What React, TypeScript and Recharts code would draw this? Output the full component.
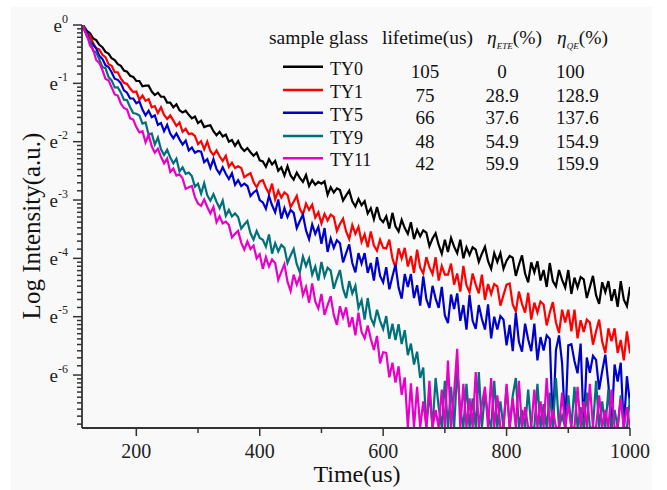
import { LineChart, Line, XAxis, YAxis } from 'recharts';

// sampling grid (us): 113, then every 5 us up to 1000
const times = [113, ...Array.from({ length: 178 }, (_, i) => 115 + i * 5)];

// ln(intensity), one value per grid point
const ty0 = [
  0, -0.02, -0.1, -0.14, -0.23, -0.26, -0.34, -0.38, -0.46, -0.49, -0.57, -0.6, -0.67, -0.7, -0.78, -0.8, -0.87, -0.89, -0.96,
  -0.96, -1.05, -1.04, -1.04, -1.14, -1.2, -1.16, -1.23, -1.23, -1.33, -1.33, -1.41, -1.36, -1.46, -1.5, -1.47, -1.54, -1.6, -1.57, -1.68,
  -1.64, -1.75, -1.73, -1.72, -1.82, -1.89, -1.83, -1.91, -1.88, -2.0, -1.97, -2.07, -1.99, -2.1, -2.16, -2.11, -2.18, -2.24, -2.19, -2.32,
  -2.34, -2.43, -2.3, -2.39, -2.33, -2.5, -2.44, -2.58, -2.42, -2.58, -2.65, -2.53, -2.62, -2.69, -2.57, -2.76, -2.66, -2.74, -2.69, -2.72,
  -2.68, -2.91, -2.78, -2.87, -2.8, -2.83, -3.01, -2.92, -2.84, -3.02, -3.11, -2.98, -3.09, -3.02, -3.23, -3.14, -3.33, -3.12, -3.32, -3.38,
  -3.28, -3.49, -3.22, -3.45, -3.54, -3.34, -3.48, -3.58, -3.38, -3.67, -3.51, -3.62, -3.52, -3.56, -3.79, -3.66, -3.57, -3.77, -3.92, -3.68,
  -3.89, -3.65, -3.8, -3.91, -3.68, -4.0, -3.81, -3.94, -3.81, -3.85, -4.06, -3.92, -3.8, -4.05, -4.18, -3.91, -4.06, -3.91, -4.18, -4.04,
  -3.96, -3.99, -4.3, -4.11, -3.95, -4.26, -4.41, -4.07, -4.24, -4.05, -4.38, -4.2, -4.49, -4.08, -4.39, -4.48, -4.2, -4.37, -4.5, -4.2,
  -4.61, -4.33, -4.5, -4.32, -4.36, -4.68, -4.49, -4.3, -4.63, -4.78, -4.41, -4.58, -4.39, -4.73, -4.53, -4.83, -4.39, -4.71, -4.82, -4.49,
];
const ty1 = [
  0, -0.03, -0.14, -0.18, -0.31, -0.4, -0.42, -0.51, -0.55, -0.67, -0.7, -0.81, -0.81, -0.92, -0.99, -1.01, -1.09, -1.15, -1.14,
  -1.28, -1.21, -1.3, -1.27, -1.41, -1.39, -1.51, -1.41, -1.54, -1.61, -1.55, -1.64, -1.73, -1.67, -1.83, -1.78, -1.87, -1.86, -1.9, -2.04,
  -1.99, -2.13, -2.0, -2.16, -2.23, -2.15, -2.25, -2.33, -2.24, -2.43, -2.36, -2.45, -2.42, -2.45, -2.61, -2.57, -2.54, -2.69, -2.78, -2.68,
  -2.66, -2.79, -2.89, -2.72, -2.99, -2.84, -2.96, -2.87, -2.91, -3.12, -3.03, -2.93, -3.15, -3.25, -3.06, -3.17, -3.08, -3.3, -3.21, -3.4,
  -3.24, -3.35, -3.25, -3.29, -3.53, -3.41, -3.32, -3.54, -3.67, -3.43, -3.58, -3.46, -3.72, -3.59, -3.81, -3.54, -3.78, -3.87, -3.68, -3.82,
  -3.83, -3.68, -4.0, -4.16, -3.83, -4.0, -3.82, -4.14, -3.96, -4.25, -3.85, -4.16, -4.26, -3.98, -4.15, -4.27, -3.98, -4.38, -4.13, -4.28,
  -4.28, -4.09, -4.45, -4.26, -4.57, -4.13, -4.46, -4.58, -4.26, -4.45, -4.6, -4.28, -4.71, -4.44, -4.61, -4.44, -4.48, -4.81, -4.63, -4.45,
  -4.43, -4.79, -4.91, -4.57, -4.78, -4.93, -4.59, -5.05, -4.76, -4.93, -4.74, -4.79, -5.15, -4.93, -4.75, -5.1, -5.28, -4.88, -5.1, -4.88,
  -5.25, -4.88, -5.37, -5.06, -5.26, -5.05, -5.1, -5.48, -5.25, -5.05, -5.43, -5.62, -5.2, -5.42, -5.2, -5.62, -5.4, -5.75, -5.25, -5.63,
];
const ty5 = [
  0, -0.06, -0.13, -0.28, -0.34, -0.4, -0.53, -0.58, -0.69, -0.72, -0.81, -0.92, -0.94, -1.0, -1.12, -1.16, -1.26, -1.26, -1.34,
  -1.31, -1.45, -1.55, -1.47, -1.58, -1.55, -1.71, -1.68, -1.82, -1.71, -1.86, -1.94, -1.86, -1.96, -2.05, -1.98, -2.15, -2.1, -2.19, -2.16,
  -2.17, -2.35, -2.3, -2.45, -2.3, -2.47, -2.55, -2.44, -2.55, -2.64, -2.54, -2.74, -2.66, -2.76, -2.72, -2.76, -2.93, -2.87, -2.83, -3.0,
  -3.04, -3.15, -2.93, -3.09, -3.21, -2.99, -3.32, -3.14, -3.29, -3.17, -3.22, -3.48, -3.36, -3.25, -3.52, -3.67, -3.42, -3.58, -3.46, -3.75,
  -3.48, -3.89, -3.66, -3.82, -3.69, -3.74, -4.07, -3.91, -3.76, -4.08, -4.24, -3.91, -4.09, -3.91, -4.25, -4.08, -4.38, -3.98, -4.3, -4.41,
  -4.15, -4.53, -4.31, -4.11, -4.5, -4.69, -4.27, -4.49, -4.27, -4.68, -4.46, -4.81, -4.31, -4.7, -4.85, -4.47, -4.69, -4.85, -4.49, -4.98,
  -5.11, -4.62, -4.87, -4.6, -5.07, -4.8, -5.22, -4.63, -5.07, -5.21, -4.8, -5.04, -5.22, -4.79, -5.37, -5.0, -5.22, -4.99, -5.05, -5.49,
  -5.14, -5.59, -4.94, -5.43, -5.6, -5.12, -5.39, -5.59, -5.12, -5.75, -5.35, -5.58, -5.32, -5.38, -6.9, -5.57, -5.32, -5.8, -6.9, -5.49,
  -5.47, -5.76, -5.97, -5.46, -6.9, -5.7, -5.96, -5.67, -5.74, -6.25, -5.93, -5.65, -6.16, -6.9, -5.82, -6.11, -5.79, -6.9, -6.02, -6.49,
];
const ty9 = [
  0, -0.05, -0.2, -0.27, -0.44, -0.47, -0.59, -0.72, -0.74, -0.89, -0.95, -1.07, -1.07, -1.16, -1.28, -1.29, -1.41, -1.51, -1.52,
  -1.55, -1.69, -1.67, -1.88, -1.86, -2.05, -1.93, -2.13, -2.23, -2.14, -2.27, -2.37, -2.29, -2.51, -2.44, -2.55, -2.53, -2.59, -2.77, -2.72,
  -2.89, -2.71, -2.92, -3.01, -2.9, -3.03, -3.14, -3.01, -3.27, -3.17, -3.28, -3.23, -3.29, -3.49, -3.42, -3.36, -3.57, -3.68, -3.53, -3.65,
  -3.68, -3.8, -3.59, -3.92, -3.74, -3.88, -3.77, -3.82, -4.08, -3.95, -3.84, -4.1, -4.24, -3.97, -4.13, -4.0, -4.28, -4.14, -4.38, -4.06,
  -4.31, -4.16, -4.21, -4.52, -4.35, -4.2, -4.52, -4.68, -4.39, -4.6, -4.47, -4.85, -4.72, -5.05, -4.68, -5.02, -5.14, -4.88, -5.07, -5.21,
  -4.99, -5.38, -5.12, -5.4, -5.13, -5.47, -5.23, -5.66, -5.46, -5.82, -5.6, -6.05, -5.87, -6.9, -6.3, -6.9, -6.05, -6.55, -6.9, -6.1,
  -6.9, -6.2, -6.9, -5.9, -6.6, -6.9, -6.15, -6.9, -6.4, -6.9, -5.95, -6.9, -6.3, -6.7, -6.9, -6.1, -6.9, -6.45, -6.9, -6.2,
  -6.9, -6.35, -6.05, -6.9, -6.6, -6.9, -6.25, -6.9, -6.9, -6.15, -6.9, -6.5, -6.9, -6.3, -6.9, -6.05, -6.9, -6.7, -6.9, -6.35,
  -6.9, -6.2, -6.9, -6.55, -6.9, -6.3, -6.9, -6.9, -6.1, -6.9, -6.45, -6.9, -6.25, -6.9, -6.6, -6.9, -6.35, -6.9, -6.9, -6.4,
];
const ty11 = [
  0, -0.08, -0.17, -0.35, -0.42, -0.6, -0.65, -0.77, -0.92, -0.95, -1.07, -1.19, -1.21, -1.35, -1.42, -1.45, -1.6, -1.62, -1.75,
  -1.84, -1.82, -2.01, -1.88, -2.08, -2.19, -2.12, -2.26, -2.37, -2.29, -2.52, -2.46, -2.58, -2.56, -2.63, -2.81, -2.78, -2.76, -2.95, -3.06,
  -3.1, -2.99, -3.12, -3.23, -3.12, -3.38, -3.28, -3.4, -3.37, -3.43, -3.64, -3.58, -3.53, -3.73, -3.85, -3.71, -3.84, -3.78, -4.0, -3.93,
  -4.18, -3.98, -4.14, -4.02, -4.08, -4.37, -4.23, -4.1, -4.4, -4.56, -4.28, -4.45, -4.31, -4.63, -4.49, -4.76, -4.43, -4.74, -4.86, -4.61,
  -4.97, -4.8, -4.65, -4.97, -5.14, -4.82, -5.01, -4.84, -5.18, -5.01, -5.32, -4.93, -5.26, -5.37, -5.15, -5.38, -5.57, -5.33, -5.8, -5.61,
  -5.62, -6.04, -5.79, -6.13, -5.85, -6.34, -6.04, -6.9, -6.14, -6.9, -6.2, -6.9, -6.45, -6.9, -6.1, -6.9, -6.6, -6.9, -6.25, -6.9,
  -5.75, -6.9, -6.3, -5.55, -6.9, -6.15, -6.9, -6.4, -6.9, -5.95, -6.9, -6.5, -6.2, -6.9, -6.05, -6.9, -6.35, -6.9, -6.9, -6.15,
  -6.9, -6.4, -6.9, -6.1, -6.9, -6.55, -6.9, -6.9, -6.25, -6.9, -6.45, -6.9, -6.05, -6.9, -6.6, -6.9, -6.9, -6.3, -6.9, -6.5,
  -6.9, -6.9, -6.2, -6.9, -6.45, -6.9, -6.15, -6.9, -6.9, -6.35, -6.9, -6.6, -6.9, -6.25, -6.9, -6.9, -6.4, -6.9, -6.55, -6.9,
];

const samples = ['TY0', 'TY1', 'TY5', 'TY9', 'TY11'];
const lifetimes = ['105', '75', '66', '48', '42'];
const eteValues = ['0', '28.9', '37.6', '54.9', '59.9'];
const qeValues = ['100', '128.9', '137.6', '154.9', '159.9'];
const colors = ['#000000', '#ff0000', '#0000cc', '#00707a', '#e800c8'];
const seriesKeys = ['ty0', 'ty1', 'ty5', 'ty9', 'ty11'];

const xMajor = [200, 400, 600, 800, 1000];
const xTicks = [200, 300, 400, 500, 600, 700, 800, 900, 1000];
const yMajor = [0, -1, -2, -3, -4, -5, -6];
const Y_MIN = Math.log(0.001);
// Origin-style minor ticks: 9 evenly spaced values between e^n and e^(n-1)
const yMinor = yMajor
  .flatMap((n) =>
    Array.from({ length: 9 }, (_, k) =>
      Math.log(Math.exp(n) - ((k + 1) * (Math.exp(n) - Math.exp(n - 1))) / 10)
    )
  )
  .filter((v) => v > Y_MIN);

const data = times.map((t, i) => ({
  t,
  ty0: ty0[i],
  ty1: ty1[i],
  ty5: ty5[i],
  ty9: ty9[i],
  ty11: ty11[i],
}));

const FONT = '"Liberation Serif", "Times New Roman", serif';
const AXIS = '#333';

function XTick({ x, y, payload }: any) {
  const major = xMajor.includes(payload.value);
  return (
    <g>
      <line x1={x} x2={x} y1={y} y2={y + (major ? 8 : 5)} stroke={AXIS} strokeWidth={1.5} />
      {major && (
        <text x={x} y={y + 30} textAnchor="middle" fontFamily={FONT} fontSize={20} fill="#222">
          {payload.value}
        </text>
      )}
    </g>
  );
}

function YTick({ x, y, payload }: any) {
  const v = payload.value;
  const major = yMajor.includes(v);
  return (
    <g>
      <line x1={x - (major ? 9 : 5)} x2={x} y1={y} y2={y} stroke={AXIS} strokeWidth={1.5} />
      {major && (
        <text x={x - 14} y={y + 6.5} textAnchor="end" fontFamily={FONT} fill="#222">
          <tspan fontSize={19}>e</tspan>
          <tspan fontSize={12} dy={-9}>{String(v)}</tspan>
        </text>
      )}
    </g>
  );
}

function LegendTable() {
  const rowY = [66.7, 90, 112.7, 136, 158.3];
  return (
    <svg
      width={667}
      height={490}
      style={{ position: 'absolute', left: 0, top: 0, pointerEvents: 'none' }}
      fontFamily={FONT}
      fill="#111"
    >
      <text x={269} y={44} fontSize={19.5}>sample glass</text>
      <text x={382} y={44} fontSize={19.5}>lifetime(us)</text>
      <text x={487} y={44} fontSize={19.5}>
        <tspan fontStyle="italic">η</tspan>
        <tspan fontSize={9} fontStyle="italic" dy={5}>ETE</tspan>
        <tspan dy={-5}>(%)</tspan>
      </text>
      <text x={557} y={44} fontSize={19.5}>
        <tspan fontStyle="italic">η</tspan>
        <tspan fontSize={9} fontStyle="italic" dy={5}>QE</tspan>
        <tspan dy={-5}>(%)</tspan>
      </text>
      {samples.map((s, i) => (
        <g key={s}>
          <line x1={283} x2={323} y1={rowY[i]} y2={rowY[i]} stroke={colors[i]} strokeWidth={2.5} />
          <text x={330} y={rowY[i] + 8} fontSize={18}>{s}</text>
          <text x={425} y={rowY[i] + 11.5} fontSize={19} textAnchor="middle">{lifetimes[i]}</text>
          <text x={502} y={rowY[i] + 11.5} fontSize={19} textAnchor="middle">{eteValues[i]}</text>
          <text x={556} y={rowY[i] + 11.5} fontSize={19}>{qeValues[i]}</text>
        </g>
      ))}
      <text x={357} y={482} fontSize={24} textAnchor="middle">Time(us)</text>
      <text x={40} y={226} fontSize={25} textAnchor="middle" transform="rotate(-90 40 226)">
        Log Intensity(a.u.)
      </text>
    </svg>
  );
}

export default function App() {
  return (
    <div style={{ position: 'absolute', left: 0, top: 0, width: 667, height: 490, background: '#fff' }}>
      <div style={{ position: 'absolute', left: 11, top: 7, width: 641, height: 483, background: '#f9f9f9' }} />
      <div style={{ position: 'absolute', left: 0, top: 0 }}>
        <LineChart width={667} height={490} data={data} margin={{ top: 25, right: 37, left: 0, bottom: 0 }}>
          <XAxis
            dataKey="t"
            type="number"
            domain={[112, 1000]}
            ticks={xTicks}
            interval={0}
            allowDataOverflow
            height={62}
            tickSize={0}
            tickMargin={0}
            tickLine={false}
            tick={<XTick />}
            axisLine={{ stroke: AXIS, strokeWidth: 1.8 }}
          />
          <XAxis
            xAxisId="top"
            orientation="top"
            type="number"
            domain={[112, 1000]}
            height={0}
            tick={false}
            tickLine={false}
            axisLine={{ stroke: AXIS, strokeWidth: 1.8 }}
          />
          <YAxis
            type="number"
            domain={[Y_MIN, 0]}
            ticks={[...yMajor, ...yMinor]}
            interval={0}
            allowDataOverflow
            width={82}
            tickSize={0}
            tickMargin={0}
            tickLine={false}
            tick={<YTick />}
            axisLine={{ stroke: AXIS, strokeWidth: 1.8 }}
          />
          <YAxis
            yAxisId="right"
            orientation="right"
            type="number"
            domain={[Y_MIN, 0]}
            width={0}
            tick={false}
            tickLine={false}
            axisLine={{ stroke: AXIS, strokeWidth: 1.8 }}
          />
          {seriesKeys.map((k, i) => (
            <Line
              key={k}
              type="linear"
              dataKey={k}
              stroke={colors[i]}
              strokeWidth={2.2}
              dot={false}
              isAnimationActive={false}
            />
          ))}
        </LineChart>
      </div>
      <LegendTable />
    </div>
  );
}
